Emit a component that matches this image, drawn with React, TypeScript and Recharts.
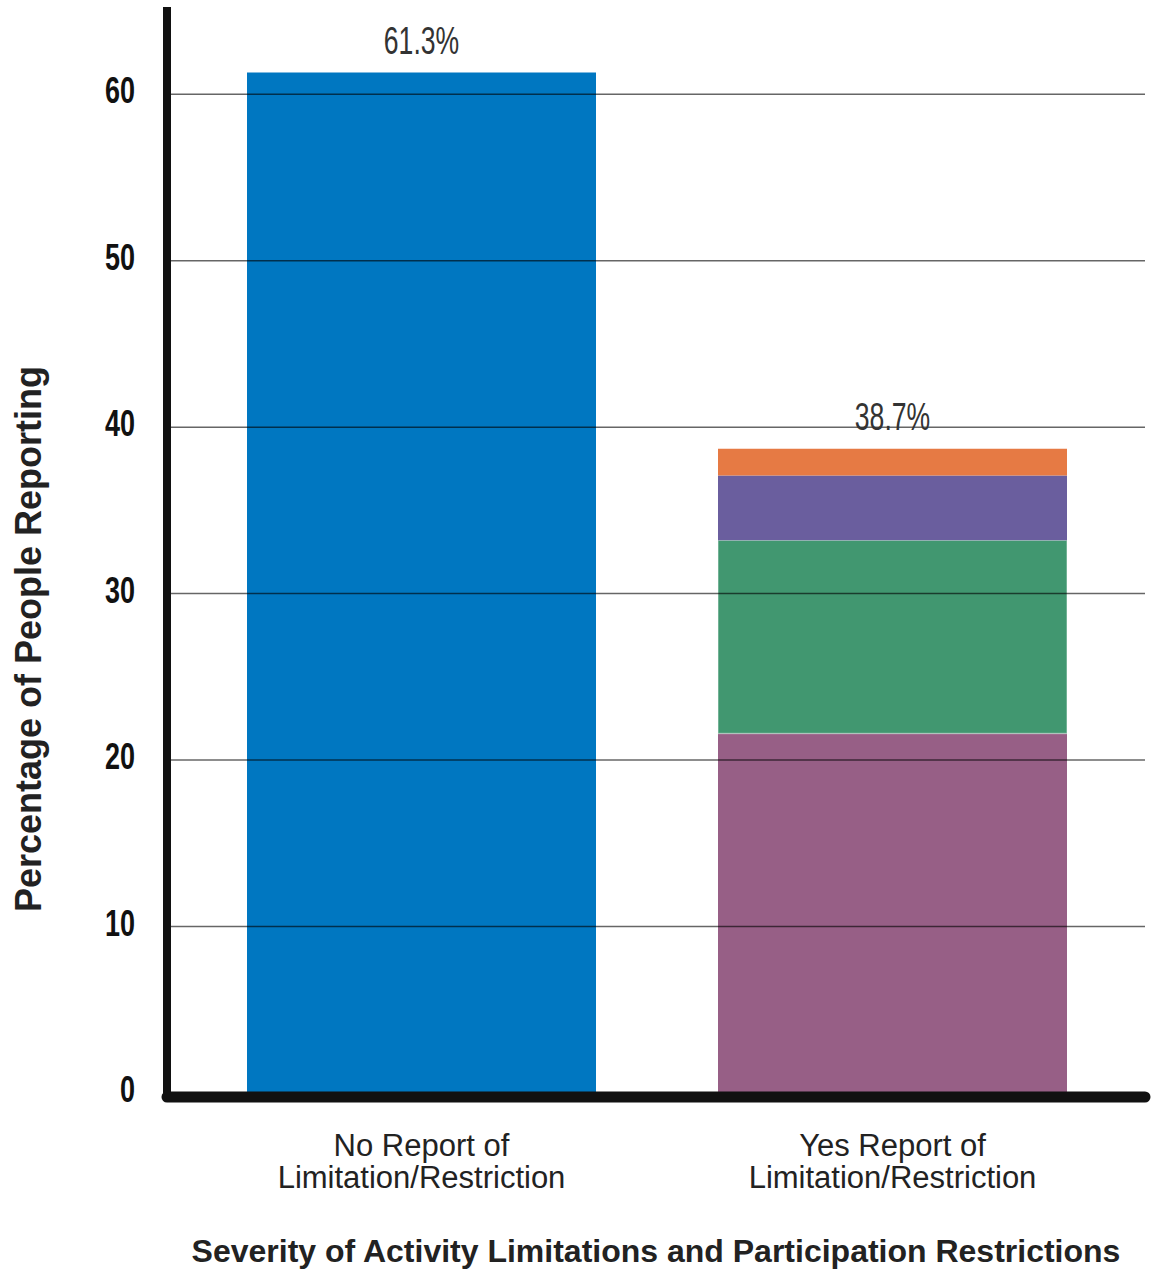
import React from 'react';
import { Bar, BarChart, LabelList, ReferenceLine, XAxis, YAxis } from 'recharts';

const CATEGORIES = ['No Report', 'Yes Report'];
const CATEGORY_LINES = [
  ['No Report of', 'Limitation/Restriction'],
  ['Yes Report of', 'Limitation/Restriction'],
];

// stacked segments, bottom to top
const NONE = [61.3, 0];
const MILD = [0, 21.6];
const MODERATE = [0, 11.6];
const SEVERE = [0, 3.9];
const COMPLETE = [0, 1.6];
const TOTALS = [61.3, 38.7];

const Y_TICKS = [0, 10, 20, 30, 40, 50, 60];
const GRID_LINES = [10, 20, 30, 40, 50, 60];

const data = CATEGORIES.map((name, i) => ({
  name,
  none: NONE[i],
  mild: MILD[i],
  moderate: MODERATE[i],
  severe: SEVERE[i],
  complete: COMPLETE[i],
  total: TOTALS[i],
}));

const SANS = "'Liberation Sans', Arial, Helvetica, sans-serif";

const CategoryTick = (props: any) => {
  const { x, y, payload } = props;
  const lines = CATEGORY_LINES[payload.index] || [payload.value];
  return (
    <text x={x} y={y} textAnchor="middle" fill="#222" fontFamily={SANS} fontSize={31}>
      {lines.map((line, i) => (
        <tspan key={i} x={x} y={y + 55 + i * 32}>
          {line}
        </tspan>
      ))}
    </text>
  );
};

// condensed bold numbers on the value axis
const ValueTick = (props: any) => {
  const { x, y, payload } = props;
  return (
    <text
      transform={`translate(${x} ${y}) scale(0.75 1)`}
      textAnchor="end"
      dy={9}
      fill="#111"
      fontFamily={SANS}
      fontSize={36}
      fontWeight="bold"
    >
      {payload.value}
    </text>
  );
};

// total above the top of each stack (skips the empty segments)
const TotalLabel = (props: any) => {
  const { x, y, width, height, value } = props;
  if (!height || height <= 0) return null;
  return (
    <text
      transform={`translate(${x + width / 2} ${y - 19}) scale(0.7 1)`}
      textAnchor="middle"
      fill="#333"
      fontFamily={SANS}
      fontSize={38}
    >
      {`${value}%`}
    </text>
  );
};

export default function App() {
  return (
    <div style={{ position: 'absolute', left: 0, top: 0, background: '#fff' }}>
      <BarChart
        width={1160}
        height={1274}
        data={data}
        margin={{ top: 11, right: 15, bottom: 0, left: 0 }}
      >
        <XAxis
          dataKey="name"
          height={181}
          padding={{ left: 19, right: 17 }}
          tickLine={false}
          axisLine={{ stroke: '#111', strokeWidth: 11, strokeLinecap: 'round', transform: 'translate(0 4)' }}
          tick={<CategoryTick />}
          interval={0}
          label={{
            value: 'Severity of Activity Limitations and Participation Restrictions',
            position: 'insideBottom',
            offset: 12,
            fill: '#222',
            fontFamily: SANS,
            fontSize: 32,
            fontWeight: 'bold',
          }}
        />
        <YAxis
          width={167}
          domain={[0, 65]}
          ticks={Y_TICKS}
          interval={0}
          tickLine={false}
          tickSize={0}
          tickMargin={32}
          axisLine={{ stroke: '#111', strokeWidth: 8, strokeLinecap: 'square' }}
          tick={<ValueTick />}
          label={{
            value: 'Percentage of People Reporting',
            angle: -90,
            position: 'center',
            dx: -55,
            dy: 87,
            fill: '#222',
            fontFamily: SANS,
            fontSize: 36,
            fontWeight: 'bold',
          }}
        />
        <Bar dataKey="none" stackId="a" fill="#0077C1" barSize={349} isAnimationActive={false}>
          <LabelList dataKey="total" content={<TotalLabel />} />
        </Bar>
        <Bar dataKey="mild" stackId="a" fill="#975F86" barSize={349} isAnimationActive={false} />
        <Bar
          dataKey="moderate"
          stackId="a"
          fill="#419770"
          stroke="rgba(255,255,255,0.35)"
          strokeWidth={1.5}
          barSize={349}
          isAnimationActive={false}
        />
        <Bar dataKey="severe" stackId="a" fill="#6A5E9E" barSize={349} isAnimationActive={false} />
        <Bar dataKey="complete" stackId="a" fill="#E67A44" barSize={349} isAnimationActive={false}>
          <LabelList dataKey="total" content={<TotalLabel />} />
        </Bar>
        {GRID_LINES.map((v) => (
          <ReferenceLine key={v} y={v} stroke="rgba(0,0,0,0.6)" strokeWidth={1.5} />
        ))}
      </BarChart>
    </div>
  );
}
